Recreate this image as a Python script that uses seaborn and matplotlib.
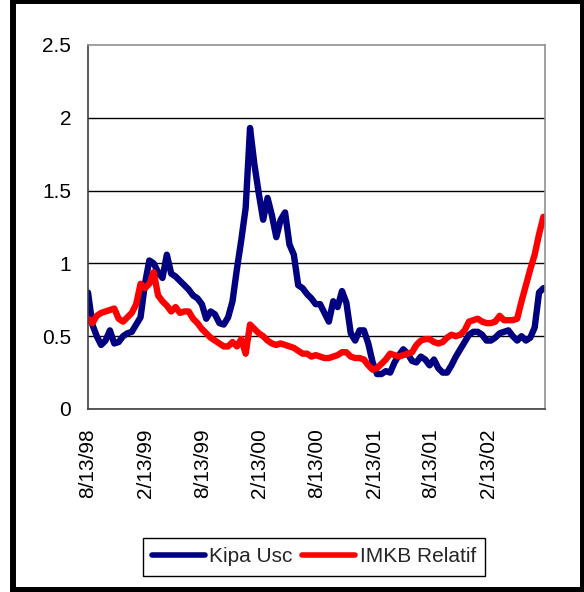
import matplotlib
matplotlib.use("Agg")
import matplotlib.pyplot as plt
import pandas as pd
import seaborn as sns
from matplotlib.patches import Rectangle

# biweekly observations, 8/13/98 onwards
dates = pd.date_range("1998-08-13", periods=105, freq="14D")

kipa = [0.80, 0.58, 0.50, 0.44, 0.47, 0.54, 0.45, 0.46, 0.50, 0.52,
        0.53, 0.58, 0.63, 0.86, 1.02, 1.00, 0.94, 0.90, 1.06, 0.93,
        0.91, 0.88, 0.85, 0.82, 0.78, 0.76, 0.72, 0.62, 0.67, 0.65,
        0.59, 0.58, 0.63, 0.74, 0.96, 1.16, 1.38, 1.93, 1.68, 1.48,
        1.30, 1.45, 1.33, 1.18, 1.30, 1.35, 1.13, 1.06, 0.85, 0.83,
        0.79, 0.76, 0.72, 0.72, 0.66, 0.60, 0.74, 0.70, 0.81, 0.73,
        0.52, 0.47, 0.54, 0.54, 0.45, 0.32, 0.24, 0.24, 0.26, 0.25,
        0.32, 0.37, 0.41, 0.38, 0.33, 0.32, 0.36, 0.34, 0.30, 0.34,
        0.28, 0.25, 0.25, 0.30, 0.36, 0.41, 0.46, 0.51, 0.53, 0.53,
        0.51, 0.47, 0.47, 0.49, 0.52, 0.53, 0.54, 0.50, 0.47, 0.50,
        0.47, 0.49, 0.56, 0.80, 0.83]

imkb = [0.62, 0.59, 0.64, 0.66, 0.67, 0.68, 0.69, 0.62, 0.60, 0.63,
        0.66, 0.72, 0.86, 0.83, 0.86, 0.94, 0.78, 0.74, 0.71, 0.67,
        0.70, 0.66, 0.67, 0.67, 0.62, 0.59, 0.55, 0.52, 0.49, 0.47,
        0.45, 0.43, 0.43, 0.46, 0.43, 0.48, 0.38, 0.58, 0.55, 0.52,
        0.50, 0.47, 0.45, 0.44, 0.45, 0.44, 0.43, 0.42, 0.40, 0.38,
        0.38, 0.36, 0.37, 0.36, 0.35, 0.35, 0.36, 0.37, 0.39, 0.39,
        0.36, 0.35, 0.35, 0.34, 0.30, 0.27, 0.28, 0.31, 0.34, 0.38,
        0.37, 0.36, 0.37, 0.38, 0.39, 0.44, 0.47, 0.48, 0.48, 0.46,
        0.45, 0.46, 0.49, 0.51, 0.50, 0.51, 0.54, 0.60, 0.61, 0.62,
        0.60, 0.59, 0.59, 0.60, 0.64, 0.61, 0.61, 0.61, 0.62, 0.74,
        0.85, 0.96, 1.06, 1.20, 1.32]

tick_dates = ["1998-08-13", "1999-02-13", "1999-08-13", "2000-02-13",
              "2000-08-13", "2001-02-13", "2001-08-13", "2002-02-13",
              "2002-08-13"]
tick_labels = ["8/13/98", "2/13/99", "8/13/99", "2/13/00", "8/13/00",
               "2/13/01", "8/13/01", "2/13/02", ""]
y_ticks = [0, 0.5, 1, 1.5, 2, 2.5]
y_labels = ["0", "0.5", "1", "1.5", "2", "2.5"]

sns.set_style("white")
plt.rcParams["font.family"] = ["Liberation Sans", "DejaVu Sans"]

df = pd.DataFrame({"date": dates, "Kipa Usc": kipa, "IMKB Relatif": imkb})
df_long = df.melt("date", var_name="series", value_name="value")

fig = plt.figure(figsize=(5.84, 5.92), dpi=100)
ax = fig.add_axes([88 / 584, 1 - 409 / 592, (545 - 88) / 584, (409 - 45) / 592])

sns.lineplot(data=df_long, x="date", y="value", hue="series",
             palette={"Kipa Usc": "#000080", "IMKB Relatif": "#FF0000"},
             linewidth=4.6, ax=ax)

handles, labels = ax.get_legend_handles_labels()
ax.get_legend().remove()

ax.set_xlim(pd.Timestamp(tick_dates[0]), pd.Timestamp(tick_dates[-1]))
ax.set_ylim(0, 2.5)
ax.set_xticks(pd.to_datetime(tick_dates))
ax.set_xticklabels(tick_labels, rotation=90)
ax.set_yticks(y_ticks)
ax.set_yticklabels(y_labels)
ax.set_xlabel("")
ax.set_ylabel("")

ax.yaxis.grid(True, color="black", linewidth=1.0)
ax.xaxis.grid(False)
ax.set_axisbelow(True)
ax.yaxis.get_gridlines()[-1].set_visible(False)

for side in ["top", "right"]:
    ax.spines[side].set_color("#909090")
    ax.spines[side].set_linewidth(1.2)
for side in ["left", "bottom"]:
    ax.spines[side].set_color("#404040")
    ax.spines[side].set_linewidth(1.2)

ax.tick_params(axis="both", direction="out", length=5, width=1,
               color="#404040", labelsize=15, labelcolor="black")
ax.tick_params(axis="y", pad=7)
ax.tick_params(axis="x", pad=9)

leg = fig.legend(handles, labels, loc="center",
                 bbox_to_anchor=(314 / 584, 35 / 592), ncol=2,
                 frameon=True, fancybox=False, edgecolor="black",
                 framealpha=1, fontsize=15, handlelength=2.55,
                 handletextpad=0.2, columnspacing=0.45, borderpad=0.45)
leg.get_frame().set_linewidth(1.0)
for line in leg.get_lines():
    line.set_linewidth(4.0)

fig.patches.append(Rectangle((13 / 584, 2 / 592), 570 / 584, 589 / 592,
                             transform=fig.transFigure, fill=False,
                             edgecolor="black", linewidth=4.3))

fig.savefig("out.png", dpi=100)
